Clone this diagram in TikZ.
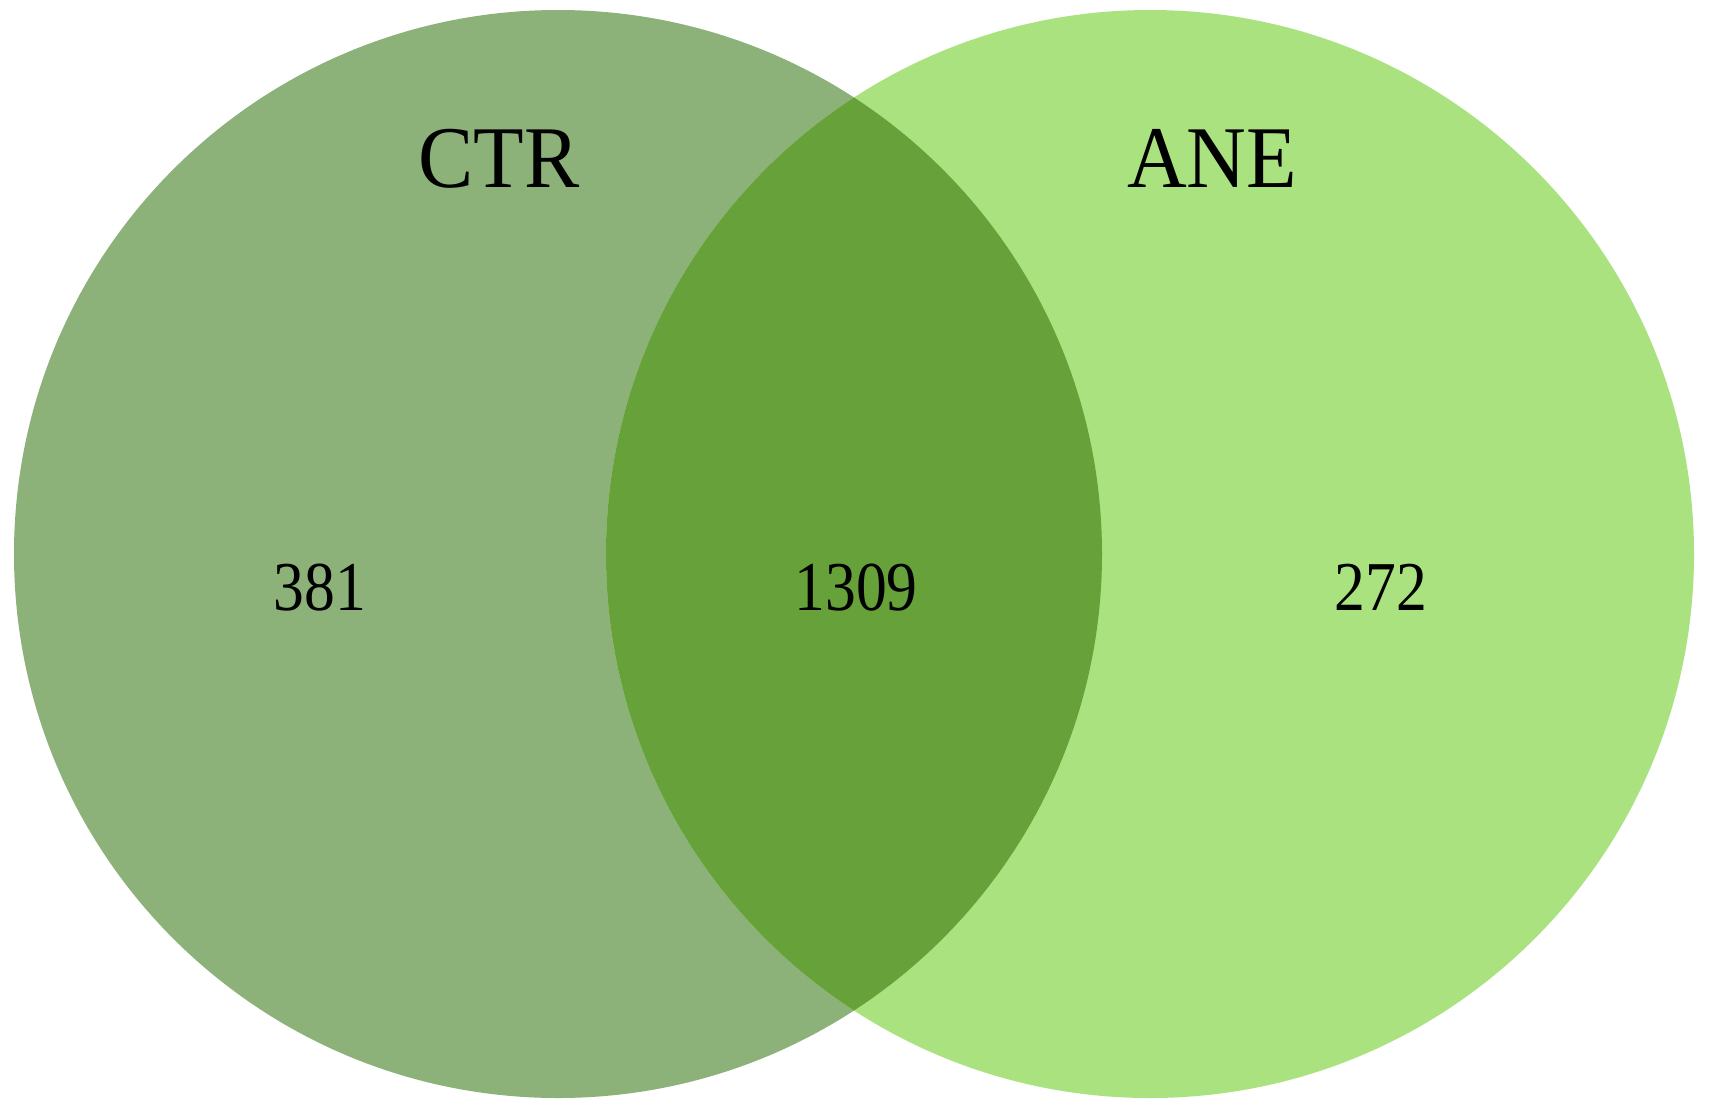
\documentclass[tikz,border=0pt]{standalone}
\usepackage{fontspec}
\setmainfont{Liberation Serif}
\definecolor{ctrcol}{HTML}{8CB179}
\definecolor{anecol}{HTML}{A9E27F}
\definecolor{bothcol}{HTML}{67A13A}
\begin{document}
\begin{tikzpicture}[x=1pt,y=-1pt,
  setlabel/.style={inner sep=0pt,anchor=base,font=\fontsize{88}{90}\selectfont,xscale=0.94},
  countlabel/.style={inner sep=0pt,anchor=base,font=\fontsize{70}{72}\selectfont,xscale=0.88}]
\useasboundingbox (0,0) rectangle (1709,1117);
\fill[white] (0,0) rectangle (1709,1117);
\coordinate (cl) at (558,554);
\coordinate (cr) at (1150,554);
\fill[ctrcol] (cl) circle[radius=544];
\fill[anecol] (cr) circle[radius=544];
\begin{scope}
  \clip (cl) circle[radius=544];
  \fill[bothcol] (cr) circle[radius=544];
\end{scope}
\node[setlabel] (ctr) at (499,187) {CTR};
\node[setlabel] (ane) at (1212,187) {ANE};
\node[countlabel] (n1) at (320,610) {381};
\node[countlabel] (n2) at (856,610) {1309};
\node[countlabel] (n3) at (1381,610) {272};
\end{tikzpicture}
\end{document}
